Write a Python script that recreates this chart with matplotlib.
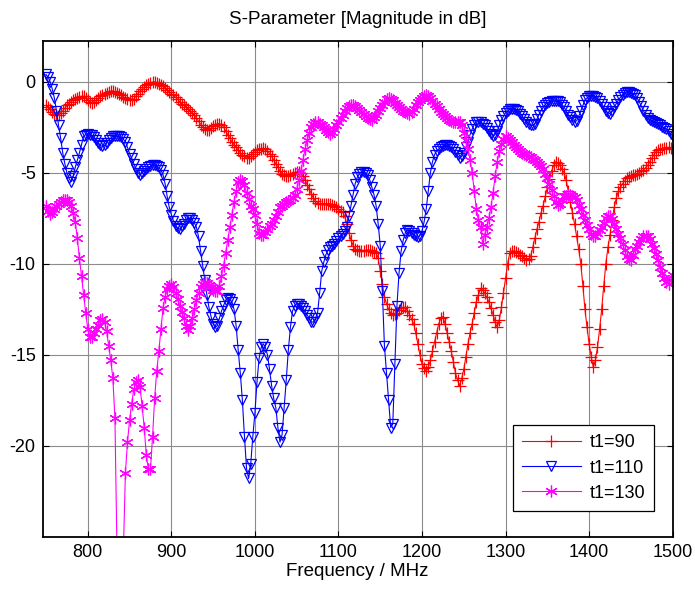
import numpy as np
import matplotlib
matplotlib.use('Agg')
from matplotlib import pyplot as plt

plt.rcParams['font.family'] = ['Liberation Sans', 'DejaVu Sans']
plt.rcParams['axes.unicode_minus'] = False

# frequency grid in MHz, 2.5 MHz steps (301 samples)
freq = np.linspace(750, 1500, 301)

labels = ['t1=90', 't1=110', 't1=130']

# S-parameter magnitude in dB (one row = 50 MHz)
s_t90 = [
    -1.3, -1.4, -1.5, -1.65, -1.75, -1.85, -1.8, -1.7, -1.6, -1.45, -1.3, -1.2, -1.1, -1.0, -0.95, -0.9, -0.85, -0.8, -0.8, -0.9,
    -1.0, -1.1, -1.15, -1.1, -1.0, -0.9, -0.8, -0.7, -0.65, -0.6, -0.55, -0.52, -0.5, -0.55, -0.6, -0.68, -0.75, -0.82, -0.9, -0.95,
    -1.0, -1.0, -0.95, -0.8, -0.65, -0.52, -0.4, -0.3, -0.2, -0.12, -0.05, -0.02, 0.0, -0.05, -0.1, -0.17, -0.25, -0.35, -0.45, -0.55,
    -0.65, -0.75, -0.85, -0.97, -1.1, -1.2, -1.3, -1.4, -1.5, -1.6, -1.7, -1.85, -2.0, -2.17, -2.35, -2.5, -2.6, -2.65, -2.65, -2.55,
    -2.45, -2.37, -2.3, -2.3, -2.35, -2.5, -2.7, -2.9, -3.1, -3.3, -3.45, -3.6, -3.75, -3.9, -4.0, -4.1, -4.2, -4.17, -4.1, -3.97,
    -3.85, -3.77, -3.7, -3.67, -3.65, -3.7, -3.8, -3.95, -4.1, -4.3, -4.5, -4.7, -4.9, -5.05, -5.15, -5.2, -5.2, -5.12, -5.05, -5.0,
    -4.95, -4.95, -5.0, -5.2, -5.4, -5.65, -5.9, -6.15, -6.4, -6.55, -6.65, -6.7, -6.7, -6.7, -6.7, -6.7, -6.7, -6.75, -6.8, -6.9,
    -7.0, -7.1, -7.15, -7.4, -7.8, -8.3, -8.7, -9.0, -9.2, -9.25, -9.3, -9.3, -9.3, -9.27, -9.25, -9.27, -9.3, -9.35, -9.4, -9.7,
    -10.4, -11.1, -11.8, -12.2, -12.5, -12.7, -12.8, -12.75, -12.7, -12.55, -12.45, -12.4, -12.4, -12.6, -12.8, -13.05, -13.3, -13.8, -14.4, -15.0,
    -15.5, -15.75, -15.9, -15.7, -15.3, -14.8, -14.3, -13.8, -13.3, -13.0, -12.9, -13.3, -13.8, -14.3, -14.8, -15.4, -16.0, -16.4, -16.7, -16.3,
    -15.8, -15.1, -14.4, -13.8, -13.3, -12.7, -12.1, -11.7, -11.35, -11.45, -11.6, -11.85, -12.1, -12.45, -12.8, -13.2, -13.5, -13.1, -12.4, -11.6,
    -10.8, -10.0, -9.4, -9.3, -9.3, -9.35, -9.4, -9.5, -9.6, -9.7, -9.8, -9.75, -9.6, -9.1, -8.6, -8.1, -7.7, -7.2, -6.8, -6.3,
    -5.8, -5.35, -4.9, -4.6, -4.4, -4.45, -4.6, -4.8, -5.0, -5.4, -6.0, -6.6, -7.2, -7.8, -8.5, -9.2, -10.0, -11.2, -12.5, -13.5,
    -14.4, -15.1, -15.7, -15.3, -14.6, -13.6, -12.5, -11.2, -10.0, -9.1, -8.4, -7.6, -6.9, -6.4, -6.0, -5.8, -5.6, -5.45, -5.3, -5.25,
    -5.2, -5.15, -5.1, -5.05, -5.0, -4.92, -4.85, -4.72, -4.6, -4.4, -4.2, -4.0, -3.85, -3.77, -3.7, -3.67, -3.65, -3.62, -3.6, -3.65,
    -3.7,
]

s_t110 = [
    0.4, 0.25, 0.0, -0.4, -0.9, -1.6, -2.4, -3.1, -3.9, -4.5, -5.0, -5.3, -5.5, -5.2, -4.7, -4.3, -3.9, -3.45, -3.0, -2.9,
    -2.85, -2.9, -2.95, -3.05, -3.2, -3.35, -3.5, -3.55, -3.5, -3.35, -3.2, -3.1, -3.0, -3.0, -3.0, -3.0, -3.05, -3.15, -3.3, -3.6,
    -3.95, -4.2, -4.5, -4.8, -5.0, -5.1, -5.0, -4.9, -4.8, -4.7, -4.65, -4.6, -4.6, -4.65, -4.7, -4.85, -5.1, -5.6, -6.3, -6.9,
    -7.3, -7.65, -7.9, -8.05, -8.1, -7.95, -7.8, -7.6, -7.5, -7.5, -7.6, -7.75, -8.0, -8.5, -9.3, -10.1, -10.9, -11.7, -12.4, -12.9,
    -13.3, -13.5, -13.4, -13.0, -12.6, -12.3, -12.0, -11.9, -11.95, -12.1, -12.5, -13.4, -14.75, -16.0, -17.5, -19.5, -21.25, -21.8, -21.0, -19.5,
    -18.2, -16.5, -15.2, -14.6, -14.4, -14.6, -15.0, -15.8, -16.7, -17.4, -17.9, -19.0, -19.8, -19.4, -17.9, -16.4, -14.75, -13.5, -12.6, -12.3,
    -12.2, -12.2, -12.3, -12.45, -12.6, -12.8, -13.0, -13.2, -13.2, -13.0, -12.7, -11.6, -10.4, -9.9, -9.5, -9.25, -9.1, -9.0, -8.9, -8.75,
    -8.6, -8.45, -8.35, -8.2, -8.0, -7.4, -6.8, -6.2, -5.6, -5.25, -5.05, -4.95, -4.95, -5.0, -5.15, -5.4, -5.8, -6.2, -6.8, -7.8,
    -9.0, -11.5, -14.5, -16.0, -17.5, -19.0, -18.8, -15.5, -12.3, -10.5, -9.3, -8.7, -8.3, -8.15, -8.2, -8.3, -8.4, -8.5, -8.55, -8.45,
    -8.2, -7.7, -7.0, -6.0, -5.0, -4.4, -4.0, -3.8, -3.7, -3.6, -3.55, -3.5, -3.5, -3.55, -3.6, -3.7, -3.85, -4.05, -4.2, -4.1,
    -3.9, -3.6, -3.3, -2.9, -2.6, -2.35, -2.2, -2.2, -2.2, -2.3, -2.4, -2.55, -2.7, -2.85, -3.0, -2.9, -2.7, -2.4, -2.1, -1.9,
    -1.7, -1.6, -1.5, -1.5, -1.5, -1.55, -1.6, -1.75, -1.9, -2.05, -2.2, -2.3, -2.4, -2.4, -2.3, -2.05, -1.8, -1.6, -1.4, -1.25,
    -1.15, -1.1, -1.05, -1.05, -1.05, -1.07, -1.1, -1.25, -1.4, -1.6, -1.8, -1.95, -2.1, -2.2, -2.15, -1.9, -1.6, -1.3, -1.0, -0.9,
    -0.8, -0.8, -0.8, -0.85, -0.9, -1.05, -1.2, -1.4, -1.6, -1.7, -1.75, -1.6, -1.4, -1.2, -1.0, -0.85, -0.7, -0.6, -0.55, -0.55,
    -0.6, -0.65, -0.7, -0.9, -1.1, -1.35, -1.6, -1.8, -2.0, -2.1, -2.15, -2.2, -2.25, -2.32, -2.4, -2.47, -2.55, -2.62, -2.7, -2.85,
    -3.0,
]

s_t130 = [
    -6.8, -7.1, -7.25, -7.15, -7.0, -6.85, -6.7, -6.6, -6.5, -6.5, -6.5, -6.6, -6.8, -7.2, -7.7, -8.6, -9.7, -10.7, -11.7, -12.7,
    -13.6, -14.0, -14.0, -13.8, -13.6, -13.35, -13.1, -13.05, -13.2, -13.7, -14.5, -15.3, -16.3, -18.5, -26.0, -29.0, -30.0, -26.0, -21.5, -19.8,
    -18.6, -17.7, -16.9, -16.5, -16.4, -16.8, -17.8, -19.0, -20.5, -21.3, -21.3, -19.5, -17.4, -15.9, -14.8, -13.6, -12.45, -11.8, -11.4, -11.2,
    -11.1, -11.3, -11.6, -11.95, -12.3, -12.65, -13.0, -13.4, -13.65, -13.4, -13.0, -12.5, -12.0, -11.6, -11.3, -11.1, -11.0, -11.05, -11.15, -11.3,
    -11.45, -11.5, -11.5, -11.2, -10.7, -10.1, -9.4, -8.7, -8.0, -7.3, -6.6, -6.0, -5.5, -5.4, -5.45, -5.7, -6.1, -6.45, -6.8, -7.0,
    -7.3, -7.8, -8.3, -8.4, -8.4, -8.25, -8.1, -7.95, -7.8, -7.6, -7.4, -7.15, -6.9, -6.8, -6.7, -6.6, -6.55, -6.5, -6.4, -6.2,
    -5.9, -5.4, -4.9, -4.3, -3.7, -3.2, -2.8, -2.5, -2.3, -2.2, -2.2, -2.3, -2.4, -2.5, -2.65, -2.75, -2.85, -2.75, -2.6, -2.4,
    -2.2, -2.0, -1.8, -1.6, -1.45, -1.35, -1.3, -1.3, -1.35, -1.45, -1.55, -1.65, -1.75, -1.9, -2.0, -2.05, -2.1, -1.95, -1.8, -1.6,
    -1.45, -1.25, -1.1, -0.95, -0.9, -0.92, -1.0, -1.15, -1.3, -1.4, -1.5, -1.6, -1.65, -1.7, -1.75, -1.65, -1.5, -1.3, -1.1, -1.0,
    -0.9, -0.8, -0.75, -0.8, -0.9, -1.05, -1.2, -1.35, -1.5, -1.65, -1.75, -1.9, -2.0, -2.1, -2.15, -2.2, -2.2, -2.2, -2.2, -2.4,
    -2.8, -3.2, -3.7, -4.3, -5.0, -6.0, -7.0, -7.6, -8.0, -8.9, -8.4, -8.0, -7.5, -6.9, -6.1, -5.2, -4.4, -3.8, -3.4, -3.15,
    -3.0, -3.1, -3.2, -3.3, -3.45, -3.6, -3.7, -3.8, -3.9, -3.95, -4.0, -4.07, -4.15, -4.22, -4.3, -4.4, -4.5, -4.65, -4.8, -5.05,
    -5.3, -5.6, -5.95, -6.3, -6.6, -6.75, -6.7, -6.5, -6.3, -6.25, -6.2, -6.2, -6.25, -6.35, -6.5, -6.75, -7.0, -7.3, -7.6, -7.85,
    -8.1, -8.35, -8.5, -8.45, -8.3, -8.15, -8.0, -7.75, -7.5, -7.4, -7.35, -7.55, -7.8, -8.1, -8.35, -8.6, -8.9, -9.25, -9.6, -9.75,
    -9.8, -9.5, -9.2, -9.0, -8.8, -8.65, -8.5, -8.45, -8.45, -8.65, -8.9, -9.15, -9.45, -9.8, -10.2, -10.5, -10.8, -11.0, -11.1, -10.9,
    -10.6,
]

x_ticks = [800, 900, 1000, 1100, 1200, 1300, 1400, 1500]
y_ticks = [-20, -15, -10, -5, 0]

fig = plt.figure(figsize=(6.95, 5.9), dpi=100)
ax = fig.add_axes([0.0614, 0.0903, 0.9065, 0.8402])

ax.plot(freq, s_t90, color='#ff0000', lw=0.8, marker='+', ms=8.5, mew=0.9, label=labels[0])
ax.plot(freq, s_t110, color='#0000ff', lw=0.8, marker='v', ms=7.5, mew=0.9, mfc='none', label=labels[1])
ax.plot(freq, s_t130, color='#ff00ff', lw=0.8, marker=(6, 2, 0), ms=8.5, mew=0.9, label=labels[2])

ax.set_xlim(746, 1500)
ax.set_ylim(-25, 2.24)
ax.set_xticks(x_ticks)
ax.set_yticks(y_ticks)
ax.grid(True, color='#8c8c8c', lw=0.8, ls='-')
ax.set_axisbelow(True)
ax.tick_params(direction='in', top=True, right=True, length=4, width=0.8,
               labelsize=13, pad=5)
for sp in ax.spines.values():
    sp.set_linewidth(1.3)

ax.set_title('S-Parameter [Magnitude in dB]', fontsize=13.5, pad=12)
ax.set_xlabel('Frequency / MHz', fontsize=13.5, labelpad=2)

leg = ax.legend(loc='lower right', bbox_to_anchor=(0.9703, 0.0525), borderaxespad=0,
                fontsize=13, handlelength=3.3, handletextpad=0.45, labelspacing=0.45,
                fancybox=False, framealpha=1, edgecolor='k', borderpad=0.5)
leg.get_frame().set_linewidth(0.9)

fig.savefig('out.png', dpi=100)
